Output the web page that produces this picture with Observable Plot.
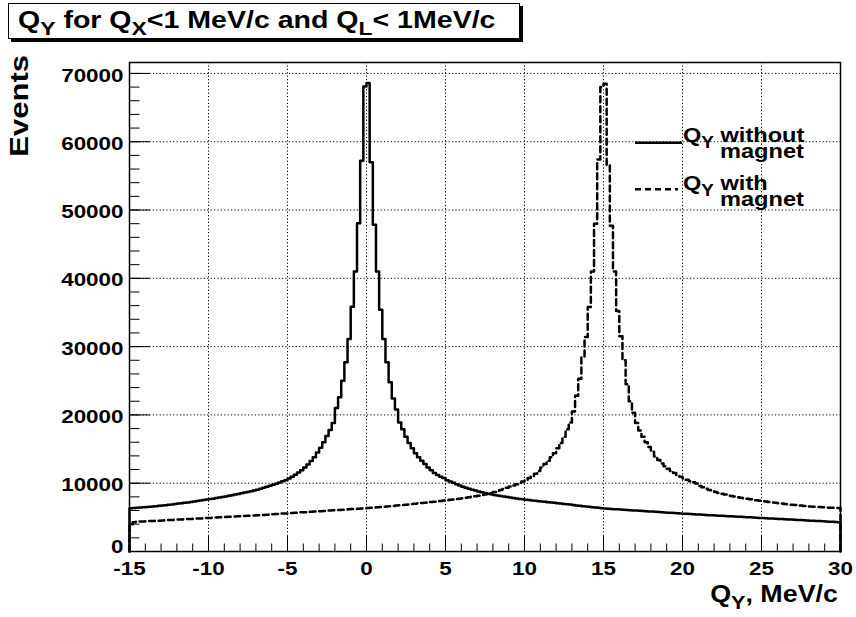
<!DOCTYPE html>
<html>
<head>
<meta charset="utf-8">
<script src="https://cdn.jsdelivr.net/npm/d3@7"></script>
<script src="https://cdn.jsdelivr.net/npm/@observablehq/plot@0.6"></script>
<style>
  body { margin: 0; background: #fff; }
  #chart { width: 856px; height: 617px; }
  text { white-space: pre; }
</style>
</head>
<body>
<div id="chart"></div>
<script>
// ---- data ----
const xMin = -15, xMax = 30, binWidth = 0.2;   // 225 bins, MeV/c
const yMax = 71600;
const xTickValues = [-15, -10, -5, 0, 5, 10, 15, 20, 25, 30];
const yTickValues = [0, 10000, 20000, 30000, 40000, 50000, 60000, 70000];
const seriesNames = ["without", "with"];

// Q_Y without magnet (events per bin, bin i starts at -15 + 0.2*i)
const withoutMagnet = [
  6350, 6380, 6420, 6450, 6490, 6510, 6560, 6590, 6640, 6690,
  6740, 6790, 6840, 6900, 6960, 7020, 7060, 7130, 7190, 7260,
  7320, 7390, 7450, 7530, 7620, 7690, 7740, 7830, 7900, 7990,
  8070, 8150, 8240, 8340, 8430, 8520, 8630, 8720, 8830, 8950,
  9050, 9190, 9330, 9470, 9610, 9760, 9920, 10110, 10270, 10450,
  10700, 10950, 11250, 11550, 11900, 12300, 12750, 13250, 13800, 14500,
  15200, 16000, 16900, 17800, 18800, 21000, 22600, 25000, 27700, 31100,
  35850, 41000, 48050, 57200, 68100, 68600, 57000, 47850, 41000, 35400,
  31100, 27700, 24800, 22400, 20800, 18900, 17900, 16800, 15900, 15100,
  14400, 13800, 13300, 12800, 12300, 11900, 11500, 11200, 10950, 10750,
  10450, 10250, 10050, 9850, 9650, 9480, 9330, 9190, 9050, 8920,
  8800, 8690, 8570, 8470, 8380, 8290, 8200, 8110, 8040, 7970,
  7900, 7830, 7760, 7700, 7640, 7580, 7530, 7470, 7420, 7370,
  7320, 7270, 7220, 7170, 7120, 7070, 7020, 6970, 6920, 6870,
  6800, 6740, 6690, 6640, 6590, 6540, 6490, 6440, 6390, 6340,
  6290, 6260, 6230, 6200, 6170, 6140, 6110, 6080, 6050, 6020,
  5990, 5960, 5930, 5900, 5870, 5840, 5810, 5780, 5750, 5720,
  5690, 5660, 5630, 5600, 5570, 5540, 5510, 5480, 5450, 5420,
  5400, 5370, 5350, 5320, 5300, 5270, 5250, 5220, 5200, 5170,
  5150, 5120, 5100, 5070, 5050, 5020, 5000, 4970, 4950, 4920,
  4900, 4870, 4850, 4820, 4800, 4770, 4750, 4720, 4700, 4670,
  4650, 4620, 4600, 4570, 4550, 4520, 4500, 4470, 4450, 4420,
  4400, 4370, 4350, 4320, 4300
];

// Q_Y with magnet
const withMagnet = [
  4000, 4300, 4350, 4380, 4400, 4420, 4450, 4470, 4500, 4520,
  4550, 4570, 4600, 4620, 4650, 4670, 4700, 4720, 4750, 4770,
  4800, 4820, 4850, 4870, 4900, 4920, 4950, 4970, 5000, 5020,
  5050, 5070, 5100, 5120, 5150, 5170, 5200, 5220, 5250, 5270,
  5300, 5320, 5350, 5370, 5400, 5450, 5480, 5520, 5550, 5580,
  5610, 5640, 5670, 5700, 5730, 5760, 5790, 5820, 5850, 5880,
  5910, 5940, 5970, 6000, 6030, 6060, 6090, 6120, 6150, 6180,
  6210, 6240, 6270, 6300, 6330, 6360, 6400, 6440, 6480, 6520,
  6560, 6600, 6640, 6680, 6720, 6760, 6800, 6850, 6900, 6950,
  7000, 7050, 7100, 7150, 7200, 7250, 7300, 7350, 7400, 7450,
  7500, 7560, 7620, 7680, 7740, 7800, 7870, 7940, 8010, 8090,
  8180, 8260, 8350, 8450, 8570, 8700, 8850, 9000, 9150, 9320,
  9500, 9680, 9860, 10050, 10250, 10500, 10750, 11050, 11400, 11800,
  12300, 12800, 13300, 13800, 14400, 15100, 15900, 16800, 17900, 18900,
  20500, 22800, 25300, 28500, 31400, 35800, 41000, 48000, 57400, 68000,
  68500, 56600, 47700, 41000, 35200, 31500, 28000, 24500, 22000, 20300,
  18800, 17700, 16800, 16000, 15300, 14600, 13900, 13400, 12900, 12500,
  12100, 11800, 11500, 11200, 10950, 10700, 10500, 10300, 10150, 9950,
  9600, 9400, 9200, 9000, 8850, 8700, 8570, 8450, 8340, 8230,
  8130, 8040, 7950, 7870, 7790, 7710, 7640, 7570, 7500, 7430,
  7370, 7310, 7250, 7190, 7130, 7070, 7010, 6960, 6910, 6860,
  6810, 6760, 6720, 6680, 6640, 6600, 6560, 6530, 6500, 6470,
  6450, 6420, 6400, 6380, 6360
];

// ---- layout ----
const WIDTH = 856, HEIGHT = 617;
const ML = 129, MR = 16, MT = 62, MB = 66;
const FW = WIDTH - ML - MR, FH = HEIGHT - MT - MB;
const FONT = '"Liberation Sans", Arial, Helvetica, sans-serif';
const SX = 1.18; // horizontal stretch of the original font

function stepPoints(counts) {
  const pts = [{x: xMin, y: 0}];
  counts.forEach((v, i) => pts.push({x: xMin + i * binWidth, y: v}));
  pts.push({x: xMax, y: counts[counts.length - 1]});
  pts.push({x: xMax, y: 0});
  return pts;
}

const xMinor = d3.range(xMin, xMax + 0.5, 1);
const yMinor = d3.range(0, yMax, 2000);

const plot = Plot.plot({
  width: WIDTH, height: HEIGHT,
  marginLeft: ML, marginRight: MR, marginTop: MT, marginBottom: MB,
  x: {domain: [xMin, xMax]},
  y: {domain: [0, yMax]},
  style: {fontFamily: FONT, fontSize: "19px", fontWeight: "bold", background: "#fff", color: "#000", overflow: "visible"},
  marks: [
    Plot.gridX(xTickValues, {stroke: "#000", strokeOpacity: 1, strokeWidth: 1, strokeDasharray: "1.2,2.2"}),
    Plot.gridY(yTickValues, {stroke: "#000", strokeOpacity: 1, strokeWidth: 1, strokeDasharray: "1.2,2.2"}),
    Plot.line(stepPoints(withMagnet), {x: "x", y: "y", curve: "step-after", stroke: "#000", strokeWidth: 2.5, strokeDasharray: "6,4"}),
    Plot.line(stepPoints(withoutMagnet), {x: "x", y: "y", curve: "step-after", stroke: "#000", strokeWidth: 2.5}),
    Plot.tickX(xMinor, {x: d => d, stroke: "#000", strokeWidth: 1, insetTop: FH - 7.5}),
    Plot.tickX(xTickValues, {x: d => d, stroke: "#000", strokeWidth: 1, insetTop: FH - 15}),
    Plot.tickY(yMinor, {y: d => d, stroke: "#000", strokeWidth: 1, insetRight: FW - 10.5}),
    Plot.tickY(yTickValues, {y: d => d, stroke: "#000", strokeWidth: 1, insetRight: FW - 21}),
    Plot.axisX(xTickValues, {tickSize: 0, tickPadding: 10, fontSize: 19, fontWeight: "bold", tickFormat: d => String(d), label: null}),
    Plot.axisY(yTickValues, {tickSize: 0, tickPadding: 6, dy: 2, fontSize: 19, fontWeight: "bold", tickFormat: d => String(d), label: null}),
    Plot.frame({stroke: "#000", strokeWidth: 1.5})
  ]
});
document.getElementById("chart").appendChild(plot);

// stretch tick labels horizontally about their anchor; lift the "0" label like the original
plot.querySelectorAll('g[aria-label="x-axis tick label"] text, g[aria-label="y-axis tick label"] text').forEach(t => {
  const tr = t.getAttribute("transform") || "";
  const isYZero = t.parentNode.getAttribute("aria-label") === "y-axis tick label" && t.textContent === "0";
  t.setAttribute("transform", (isYZero ? "translate(0,-7) " : "") + tr + ` scale(${SX},1)`);
});

const svg = d3.select(plot);

// parts: "text", ["sub"], or {br: true, dx, dy} for a new line
function rich(parts, {x, y, size, sx = SX, anchor = "start", rotate = 0, subScale = 0.8}) {
  const t = svg.append("text")
    .attr("transform", `translate(${x},${y})${rotate ? ` rotate(${rotate})` : ""} scale(${sx},1)`)
    .attr("text-anchor", anchor)
    .attr("font-family", FONT).attr("font-weight", "bold").attr("font-size", size)
    .attr("fill", "#000");
  let shift = 0, pendingBr = null;
  parts.forEach(p => {
    if (p && p.br) { pendingBr = p; return; }
    const sub = Array.isArray(p);
    const s = sub ? p[0] : p;
    const target = sub ? size * 0.3 : 0;
    const ts = t.append("tspan").text(s).attr("font-size", sub ? size * subScale : size);
    if (pendingBr) {
      ts.attr("x", pendingBr.dx / sx).attr("dy", pendingBr.dy + target - shift);
      shift = target; pendingBr = null;
    } else if (target !== shift) { ts.attr("dy", target - shift); shift = target; }
  });
  return t;
}

// title box with shadow
svg.append("rect").attr("x", 11).attr("y", 6).attr("width", 512).attr("height", 36).attr("fill", "#000");
svg.append("rect").attr("x", 8.5).attr("y", 3.5).attr("width", 511).attr("height", 35)
  .attr("fill", "#fff").attr("stroke", "#000").attr("stroke-width", 1);
rich(["Q", ["Y"], " for Q", ["X"], "<1 MeV/c and Q", ["L"], "< 1MeV/c"], {x: 18, y: 28, size: 24, sx: 1.19});

// axis titles
rich(["Events"], {x: 28, y: 55, size: 25, sx: 1.24, anchor: "end", rotate: -90});
rich(["Q", ["Y"], ", MeV/c"], {x: 838, y: 602, size: 24, sx: 1.12, anchor: "end"});

// legend
const legendRows = [
  {name: seriesNames[0], dash: null, yLine: 142.7, yText: 142, x2: 682},
  {name: seriesNames[1], dash: "6,4", yLine: 189.3, yText: 190, x2: 678}
];
legendRows.forEach(r => {
  svg.append("line").attr("x1", 635).attr("x2", r.x2).attr("y1", r.yLine).attr("y2", r.yLine)
    .attr("stroke", "#000").attr("stroke-width", 2.5).attr("stroke-dasharray", r.dash);
  rich(["Q", ["Y"], " " + r.name, {br: true, dx: 37, dy: 15.5}, "magnet"], {x: 683, y: r.yText, size: 20});
});
</script>
</body>
</html>
